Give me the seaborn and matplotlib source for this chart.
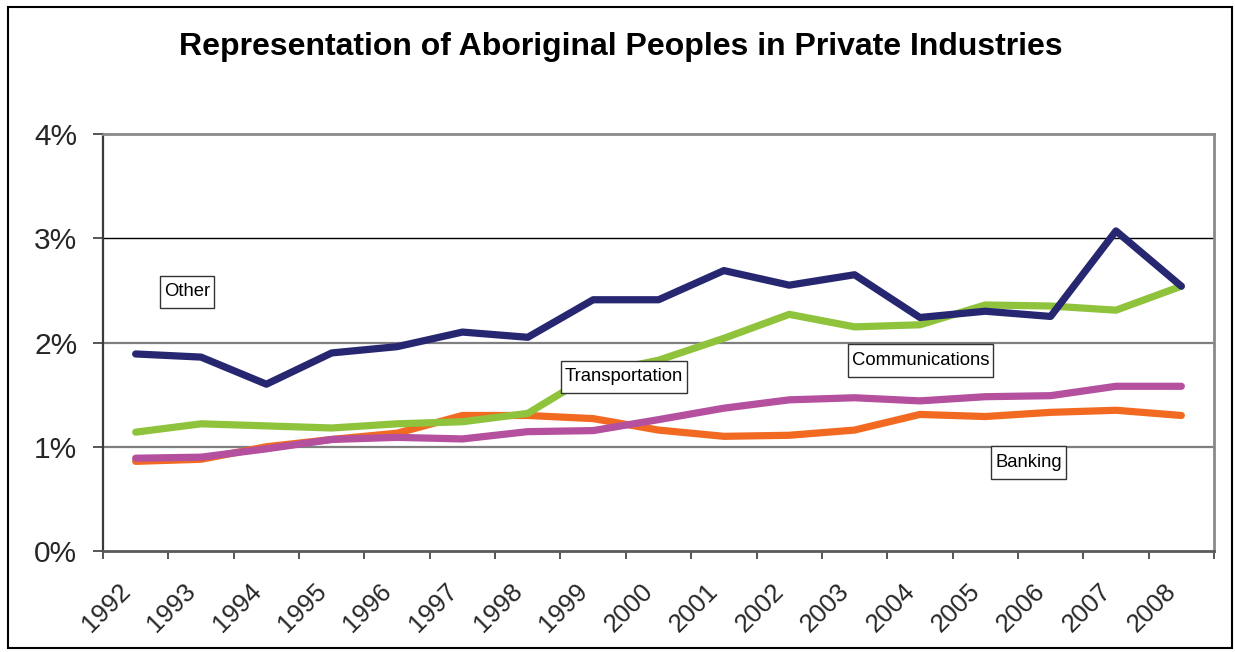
import matplotlib
matplotlib.use("Agg")
import matplotlib.pyplot as plt
from matplotlib.patches import Rectangle
from matplotlib.path import Path
from matplotlib.ticker import FixedLocator, FuncFormatter
from matplotlib.transforms import ScaledTranslation
import numpy as np
import pandas as pd
import seaborn as sns

# Representation (%) of Aboriginal peoples by industry sector
years = [str(y) for y in range(1992, 2009)]
banking = [0.86, 0.88, 1.00, 1.07, 1.13, 1.30, 1.30, 1.27, 1.16, 1.10, 1.11, 1.16, 1.31, 1.29, 1.33, 1.35, 1.30]
communications = [0.89, 0.90, 0.98, 1.07, 1.09, 1.075, 1.145, 1.155, 1.26, 1.37, 1.45, 1.47, 1.44, 1.48, 1.49, 1.58, 1.58]
transportation = [1.14, 1.22, 1.20, 1.18, 1.22, 1.24, 1.32, 1.70, 1.83, 2.04, 2.27, 2.15, 2.17, 2.36, 2.35, 2.31, 2.54]
other = [1.89, 1.86, 1.60, 1.90, 1.96, 2.10, 2.05, 2.41, 2.41, 2.69, 2.55, 2.65, 2.24, 2.30, 2.25, 3.07, 2.54]
y_ticks = [0, 1, 2, 3, 4]

series = {
    "Banking": banking,
    "Communications": communications,
    "Transportation": transportation,
    "Other": other,
}
colors = {
    "Banking": "#F26A22",
    "Communications": "#B4509E",
    "Transportation": "#8FC33C",
    "Other": "#262671",
}

df = pd.DataFrame(
    [(i, name, v) for name, vals in series.items() for i, v in enumerate(vals)],
    columns=["pos", "sector", "value"],
)

sns.set_theme(style="white")
plt.rcParams["font.family"] = ["Liberation Sans", "DejaVu Sans"]

fig = plt.figure(figsize=(12.35, 6.52), dpi=100)
ax = fig.add_axes([103 / 1235, 1 - 551 / 652, (1214 - 103) / 1235, (551 - 134) / 652])

sns.lineplot(
    data=df, x="pos", y="value", hue="sector",
    hue_order=list(series.keys()), palette=colors,
    linewidth=5.2, legend=False, sort=False, ax=ax, zorder=3,
)
for line in ax.get_lines():
    line.set_solid_joinstyle("round")
    line.set_solid_capstyle("round")

ax.set_xlim(-0.5, len(years) - 0.5)
ax.set_ylim(0, 4)

# gridlines
for v in y_ticks[1:-1]:
    if v == 3:
        ax.axhline(v, color="black", lw=1.0, zorder=1)
    else:
        ax.axhline(v, color="#7f7f7f", lw=1.6, zorder=1)

# spines
for side in ["top", "right"]:
    ax.spines[side].set_color("#8a8a8a")
    ax.spines[side].set_linewidth(2.0)
ax.spines["left"].set_color("#3a3a3a")
ax.spines["left"].set_linewidth(1.6)
ax.spines["bottom"].set_color("#5a5a5a")
ax.spines["bottom"].set_linewidth(2.0)

# y axis
ax.set_yticks(y_ticks)
ax.yaxis.set_major_formatter(FuncFormatter(lambda v, p: f"{int(v)}%"))
ax.tick_params(axis="y", which="major", direction="out", length=7.5, width=1.2,
               color="#3a3a3a", labelsize=21.5, pad=11, left=True)

# x axis: labels at category centres, ticks at category boundaries
ax.xaxis.set_major_locator(FixedLocator(range(len(years))))
ax.set_xticklabels(years)
ax.xaxis.set_minor_locator(FixedLocator(np.arange(-0.5, len(years), 1.0)))
ax.tick_params(axis="x", which="major", length=0, labelsize=18.5, pad=26)
ax.tick_params(axis="x", which="minor", direction="out", length=5.5, width=1.2,
               color="#3a3a3a", bottom=True)
shift = ScaledTranslation(-9 / 100, 0, fig.dpi_scale_trans)
for lab in ax.get_xticklabels():
    lab.set_rotation(45)
    lab.set_ha("right")
    lab.set_va("center")
    lab.set_rotation_mode("anchor")
    lab.set_transform(lab.get_transform() + shift)

ax.set_xlabel("")
ax.set_ylabel("")


def label_box(x0, y0, width, height, mutation_size):
    """Square box with a narrow side margin and a taller top/bottom margin."""
    px = 0.22 * mutation_size
    py = 0.42 * mutation_size
    x0, y0 = x0 - px, y0 - py
    x1, y1 = x0 + width + 2 * px, y0 + height + 2 * py
    return Path([(x0, y0), (x1, y0), (x1, y1), (x0, y1), (x0, y0)], closed=True)


# series labels
labels = [
    ("Other", 0.784, 2.486),
    ("Transportation", 7.474, 1.67),
    ("Communications", 12.01, 1.827),
    ("Banking", 13.66, 0.851),
]
for text, x, y in labels:
    ax.text(x, y, text, ha="center", va="center", fontsize=13.3, color="black", zorder=5,
            bbox=dict(boxstyle=label_box, facecolor="white", edgecolor="#333333", lw=1.0))

fig.text(0.503, 1 - 47 / 652, "Representation of Aboriginal Peoples in Private Industries",
         ha="center", va="center", fontsize=23, fontweight="bold", color="black")

# outer frame
fig.patches.append(Rectangle((8 / 1235, 1 - 648 / 652), (1232 - 8) / 1235, (648 - 7) / 652,
                             transform=fig.transFigure, fill=False, edgecolor="black", lw=1.5))

fig.savefig("out.png", dpi=100, facecolor="white")
